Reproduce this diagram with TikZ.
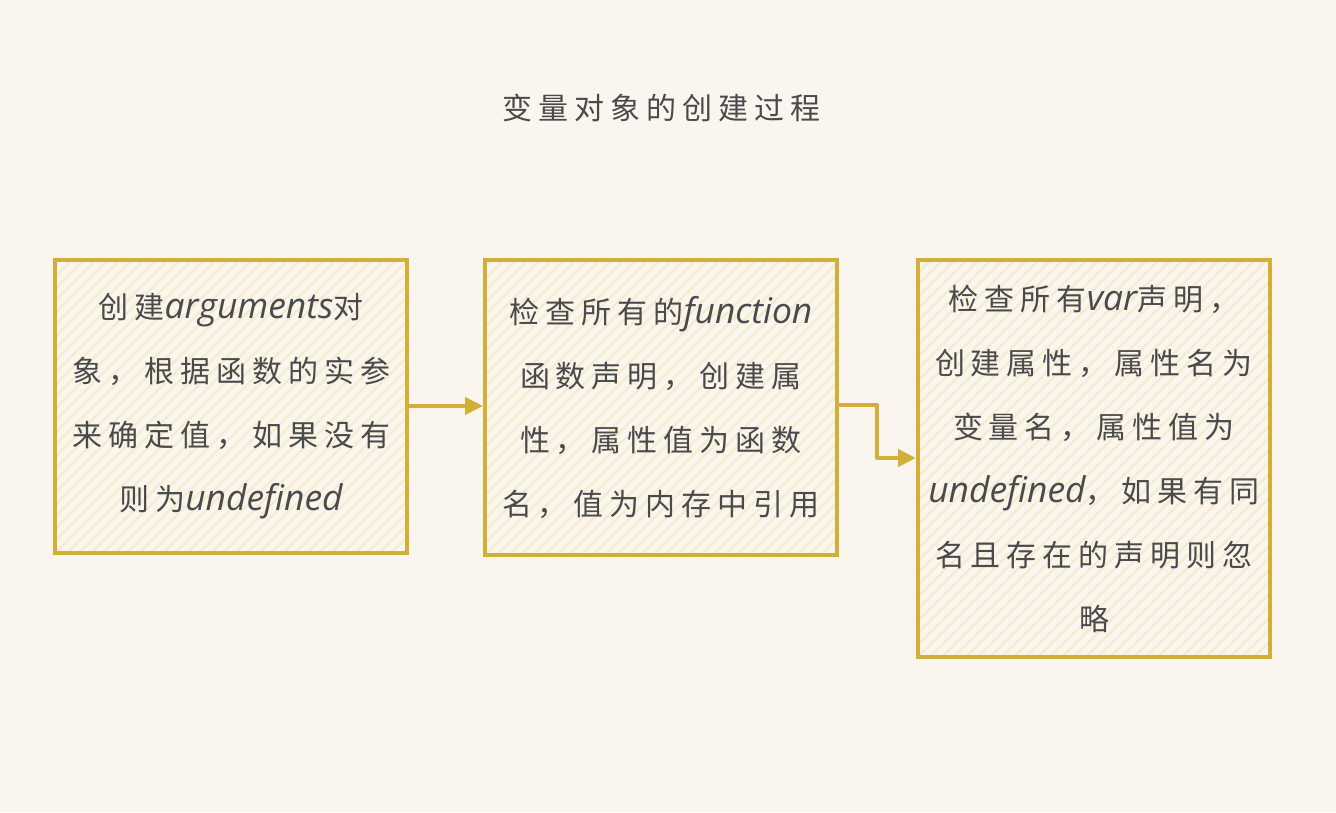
\documentclass[tikz,border=0pt]{standalone}
\usepackage{fontspec}
\usetikzlibrary{arrows.meta,calc}
\setmainfont{Noto Sans CJK SC}[LetterSpace=20]
\newfontfamily\latin{Open Sans}[LetterSpace=0,Scale=1.18]
\newcommand{\lw}[1]{{\latin\itshape #1}}
\definecolor{bg}{HTML}{FAF6EF}
\definecolor{gold}{HTML}{D4AF37}
\definecolor{hatch}{HTML}{F4ECCB}
\definecolor{ink}{HTML}{4A4A4A}
\tikzset{
  stepbox/.style={draw=gold, line width=4pt, fill=bg, text=ink,
    minimum width=352pt, inner sep=0pt, align=center,
    font=\fontsize{30}{64}\selectfont,
    path picture={
      \foreach \i in {-420,-408,...,420}
        \draw[hatch, line width=2.2pt]
          ($(path picture bounding box.south west)+(\i pt,0)$) -- ++(440pt,440pt);
    }},
  flow/.style={draw=gold, line width=4pt, line join=round,
    -{Triangle[length=18pt,width=17pt]}},
}
\begin{document}
\begin{tikzpicture}[x=1pt,y=-1pt]
  \fill[bg] (0,0) rectangle (1336,812);
  \useasboundingbox (0,0) rectangle (1336,812);

  \node[text=ink, font=\fontsize{30}{36}\selectfont] (title) at (661,108) {变量对象的创建过程};

  \node[stepbox, minimum height=293pt] (b1) at (231,406.5)
    {创建\lw{arguments}对\\象，根据函数的实参\\来确定值，如果没有\\则为\lw{undefined}};
  \node[stepbox, minimum height=295pt] (b2) at (661,407.5)
    {检查所有的\lw{function}\\函数声明，创建属\\性，属性值为函数\\名，值为内存中引用};
  \node[stepbox, minimum height=397pt] (b3) at (1094,458.5)
    {检查所有\lw{var}声明，\\创建属性，属性名为\\变量名，属性值为\\\lw{undefined}，如果有同\\名且存在的声明则忽\\略};

  \draw[flow] (b1.east |- 0,406) -- (b2.west |- 0,406);
  \coordinate (k) at (877,405);
  \draw[flow] (b2.east |- k) -- (k) -- (877,458) -- (b3.west |- 0,458);
\end{tikzpicture}
\end{document}
